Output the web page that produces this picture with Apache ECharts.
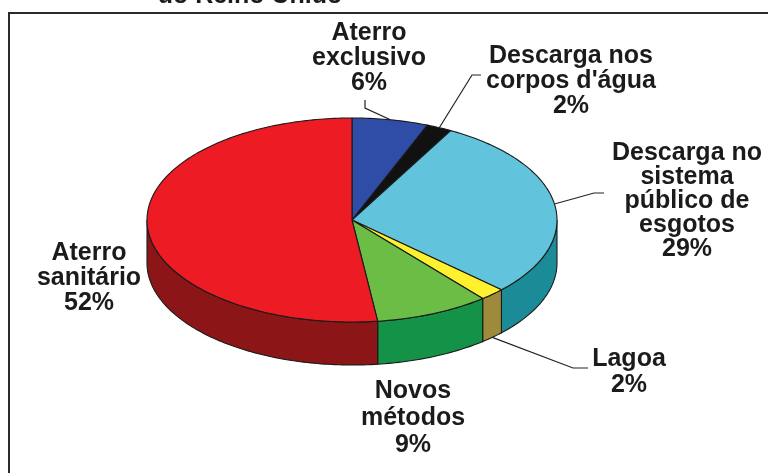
<!DOCTYPE html>
<html>
<head>
<meta charset="utf-8">
<script src="https://cdn.jsdelivr.net/npm/echarts@6/dist/echarts.min.js"></script>
<style>
  html, body { margin: 0; padding: 0; background: #ffffff; }
  #chart { width: 768px; height: 473px; }
</style>
</head>
<body>
<div id="chart"></div>
<script>
// Destino do lodo de esgoto (%), fatias em sentido horário a partir das 12 h
const categories = [
  'Aterro\nexclusivo',
  "Descarga nos\ncorpos d'água",
  'Descarga no\nsistema\npúblico de\nesgotos',
  'Lagoa',
  'Novos\nmétodos',
  'Aterro\nsanitário'
];
const shares = [6, 2, 29, 2, 9, 52];
const titleText = 'do Reino Unido';

// Cores do topo e da lateral de cada fatia
const topColors  = ['#2f4ca6', '#111111', '#62c3dc', '#fff12e', '#6cbd45', '#ed1c24'];
const sideColors = ['#1f3478', '#000000', '#1b8b97', '#9d8a3b', '#139248', '#8c1517'];

// Geometria do disco (elipse do topo + espessura)
const CX = 352, CY = 220, RX = 205, RY = 102, DEPTH = 43;
const FONT = 'Liberation Sans';
const INK = '#1b1b1b';

// Posição dos rótulos e das linhas de chamada
const labelLayout = [
  { x: 369, y: 58,  lh: 25, lead: [[365, 100], [365, 108]], edge: 'top' },
  { x: 571, y: 81,  lh: 25, lead: [[481, 75], [472, 75]],   edge: 'top' },
  { x: 687, y: 201, lh: 24, lead: [[604, 193], [594, 193]], edge: 'top' },
  { x: 629, y: 372, lh: 26, lead: [[588, 368], [573, 368]], edge: 'bottom' },
  { x: 413, y: 418, lh: 27, lead: null },
  { x: 89,  y: 278, lh: 25, lead: null }
];

const total = shares.reduce((a, b) => a + b, 0);
const starts = shares.map((_, i) => shares.slice(0, i).reduce((a, b) => a + b, 0));

// ângulo em graus, horário a partir do topo
function pt(deg, dy) {
  const r = deg * Math.PI / 180;
  return [CX + RX * Math.sin(r), CY - RY * Math.cos(r) + (dy || 0)];
}
function arc(a, b, dy) {
  const pts = [];
  const n = Math.max(2, Math.ceil(Math.abs(b - a) / 1));
  for (let k = 0; k <= n; k++) pts.push(pt(a + (b - a) * k / n, dy));
  return pts;
}

function renderItem(params, api) {
  const i = params.dataIndex;
  const v = api.value(0);
  const a0 = starts[i] / total * 360;
  const a1 = a0 + v / total * 360;
  const children = [];

  // lateral visível (metade frontal: 90°..270°)
  const s0 = Math.max(a0, 90), s1 = Math.min(a1, 270);
  if (s1 > s0) {
    const pts = arc(s0, s1, 0).concat(arc(s1, s0, DEPTH));
    children.push({
      type: 'polygon', z2: 1,
      shape: { points: pts },
      style: { fill: sideColors[i], stroke: '#1a1a1a', lineWidth: 1.1 }
    });
  }

  // face superior
  children.push({
    type: 'polygon', z2: 10,
    shape: { points: [[CX, CY]].concat(arc(a0, a1, 0)) },
    style: { fill: topColors[i], stroke: '#1a1a1a', lineWidth: 1.1, lineJoin: 'round' }
  });

  // rótulo
  const L = labelLayout[i];
  children.push({
    type: 'text', z2: 30,
    style: {
      text: categories[i] + '\n' + v + '%',
      x: L.x, y: L.y,
      align: 'center', verticalAlign: 'middle',
      fontFamily: FONT, fontWeight: 'bold', fontSize: 25, lineHeight: L.lh,
      fill: INK
    }
  });

  // linha de chamada até o meio da fatia
  if (L.lead) {
    const mid = (a0 + a1) / 2;
    const anchor = pt(mid, L.edge === 'bottom' ? DEPTH : 0);
    children.push({
      type: 'polyline', z2: 20,
      shape: { points: L.lead.concat([anchor]) },
      style: { stroke: '#222222', lineWidth: 1.2, fill: null }
    });
  }

  return { type: 'group', children: children };
}

const chart = echarts.init(document.getElementById('chart'), null, { renderer: 'canvas' });
chart.setOption({
  backgroundColor: '#ffffff',
  animation: false,
  graphic: [
    {
      type: 'rect', z: 0,
      shape: { x: 9, y: 13, width: 800, height: 500 },
      style: { fill: null, stroke: '#2b2b2b', lineWidth: 2 }
    },
    {
      type: 'text', z: 5,
      style: {
        text: titleText, x: 250, y: -4,
        align: 'center', verticalAlign: 'middle',
        fontFamily: FONT, fontWeight: 'bold', fontSize: 25, lineHeight: 25,
        fill: INK
      }
    }
  ],
  series: [{
    type: 'custom',
    coordinateSystem: 'none',
    renderItem: renderItem,
    data: shares.map((v, i) => ({ name: categories[i], value: [v] })),
    silent: true
  }]
});
</script>
</body>
</html>
